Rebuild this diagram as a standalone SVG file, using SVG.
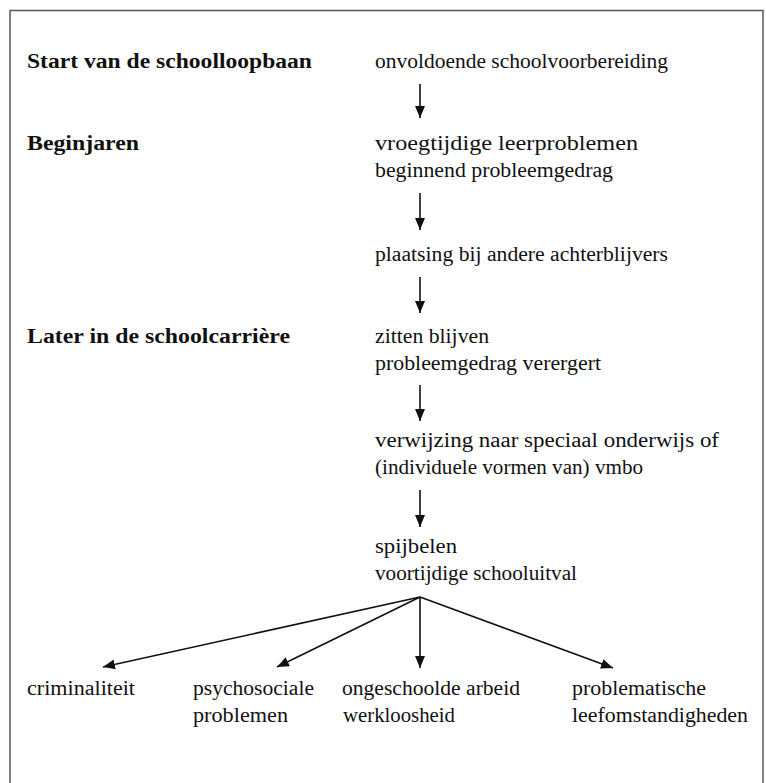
<svg xmlns="http://www.w3.org/2000/svg" width="766" height="783" viewBox="0 0 766 783">
<style>
text{font-family:'Liberation Serif','Tinos','DejaVu Serif',serif;font-size:20px;fill:#111}
.b{font-weight:bold}
.c line{stroke:#111;stroke-width:1.6;marker-end:url(#ah)}
</style>
<defs>
<marker id="ah" viewBox="0 0 12 10" refX="12" refY="5" markerWidth="12" markerHeight="10" markerUnits="userSpaceOnUse" orient="auto">
<path d="M0,0 L12,5 L0,10 z" fill="#111"/>
</marker>
</defs>
<rect width="766" height="783" fill="#fff"/>
<rect x="10" y="10.5" width="753" height="800" fill="none" stroke="#555" stroke-width="1.5"/>
<g id="phases">
<text class="b" x="27" y="68" textLength="285" lengthAdjust="spacingAndGlyphs">Start van de schoolloopbaan</text>
<text class="b" x="27" y="150" textLength="112" lengthAdjust="spacingAndGlyphs">Beginjaren</text>
<text class="b" x="27" y="343" textLength="263" lengthAdjust="spacingAndGlyphs">Later in de schoolcarrière</text>
</g>
<g id="n1"><text x="375" y="68" textLength="293" lengthAdjust="spacingAndGlyphs">onvoldoende schoolvoorbereiding</text></g>
<g id="n2"><text x="375" y="150" textLength="263" lengthAdjust="spacingAndGlyphs">vroegtijdige leerproblemen</text>
<text x="375" y="177" textLength="238" lengthAdjust="spacingAndGlyphs">beginnend probleemgedrag</text></g>
<g id="n3"><text x="375" y="261" textLength="293" lengthAdjust="spacingAndGlyphs">plaatsing bij andere achterblijvers</text></g>
<g id="n4"><text x="375" y="343" textLength="114" lengthAdjust="spacingAndGlyphs">zitten blijven</text>
<text x="375" y="370" textLength="226" lengthAdjust="spacingAndGlyphs">probleemgedrag verergert</text></g>
<g id="n5"><text x="375" y="447" textLength="344" lengthAdjust="spacingAndGlyphs">verwijzing naar speciaal onderwijs of</text>
<text x="375" y="474" textLength="268" lengthAdjust="spacingAndGlyphs">(individuele vormen van) vmbo</text></g>
<g id="n6"><text x="375" y="553" textLength="82" lengthAdjust="spacingAndGlyphs">spijbelen</text>
<text x="375" y="580" textLength="202" lengthAdjust="spacingAndGlyphs">voortijdige schooluitval</text></g>
<g id="o1"><text x="27" y="695" textLength="108" lengthAdjust="spacingAndGlyphs">criminaliteit</text></g>
<g id="o2"><text x="193" y="695" textLength="121" lengthAdjust="spacingAndGlyphs">psychosociale</text>
<text x="193" y="722" textLength="95" lengthAdjust="spacingAndGlyphs">problemen</text></g>
<g id="o3"><text x="342" y="695" textLength="178" lengthAdjust="spacingAndGlyphs">ongeschoolde arbeid</text>
<text x="343" y="722" textLength="112" lengthAdjust="spacingAndGlyphs">werkloosheid</text></g>
<g id="o4"><text x="572" y="695" textLength="134" lengthAdjust="spacingAndGlyphs">problematische</text>
<text x="572" y="722" textLength="176" lengthAdjust="spacingAndGlyphs">leefomstandigheden</text></g>
<g class="c" id="connectors">
<line x1="420" y1="84" x2="420" y2="118"/>
<line x1="420" y1="193" x2="420" y2="230"/>
<line x1="420" y1="277" x2="420" y2="313"/>
<line x1="420" y1="385" x2="420" y2="421"/>
<line x1="420" y1="490" x2="420" y2="527"/>
<line x1="420" y1="597" x2="103" y2="667"/>
<line x1="420" y1="597" x2="277" y2="667"/>
<line x1="420" y1="597" x2="420" y2="668"/>
<line x1="420" y1="597" x2="613" y2="668"/>
</g>
</svg>
